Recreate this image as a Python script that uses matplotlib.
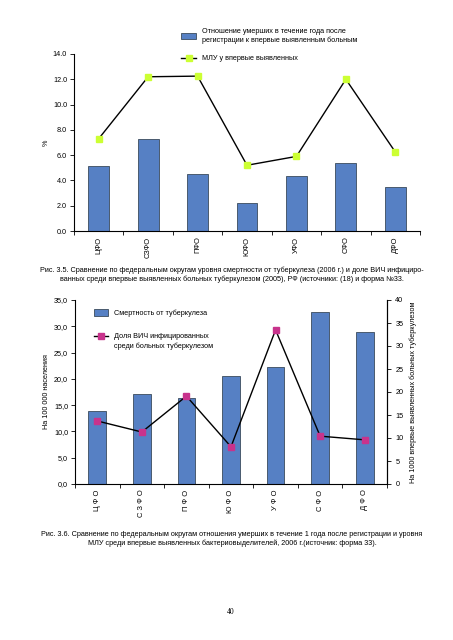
import matplotlib
matplotlib.use("Agg")
import numpy as np
import matplotlib.pyplot as plt
from matplotlib.patches import Rectangle
from matplotlib.lines import Line2D

plt.rcParams['font.family'] = ['Liberation Sans', 'DejaVu Sans']

districts = ['ЦФО', 'СЗФО', 'ПФО', 'ЮФО', 'УФО', 'СФО', 'ДФО']

# fig 3.5 (upper chart)
died_ratio = [5.15, 7.25, 4.5, 2.2, 4.35, 5.4, 3.45]
mdr_new = [7.3, 12.2, 12.25, 5.2, 5.9, 12.0, 6.25]

# fig 3.6 (lower chart)
tb_mortality = [13.9, 17.2, 16.4, 20.5, 22.3, 32.8, 29.0]
hiv_share = [13.7, 11.3, 19.1, 8.1, 33.5, 10.4, 9.6]

W, H = 453, 640
BAR = '#5680c4'
EDGE = '#3a4a5c'
fs = 5.2

fig = plt.figure(figsize=(W / 100, H / 100), dpi=100)


def fx(px):
    return px / W


def fy(py):
    return 1 - py / H


def style_cat_axis(ax, labels, lfs):
    n = len(labels)
    ax.set_xlim(-0.5, n - 0.5)
    ax.set_xticks(np.arange(n + 1) - 0.5)
    ax.set_xticklabels([])
    ax.set_xticks(np.arange(n), minor=True)
    ax.set_xticklabels(labels, minor=True, rotation=90, va='top', fontsize=lfs)
    ax.tick_params(axis='x', which='major', direction='out', length=3, width=0.6)
    ax.tick_params(axis='x', which='minor', length=0, pad=4)
    ax.tick_params(axis='y', direction='out', length=3, width=0.6, labelsize=fs, pad=2)
    for s in ('top', 'right'):
        ax.spines[s].set_visible(False)
    for s in ('left', 'bottom'):
        ax.spines[s].set_linewidth(0.8)


x = np.arange(len(districts))

# ---- upper chart
ax1 = fig.add_axes([fx(74), fy(231), fx(420) - fx(74), fy(54) - fy(231)])
ax1.bar(x, died_ratio, width=0.42, color=BAR, edgecolor=EDGE, linewidth=0.6, zorder=2)
ax1.plot(x, mdr_new, color='black', lw=1.0, marker='s', ms=4.8,
         mfc='#ccff33', mec='#ccff33', zorder=3)
ax1.set_ylim(0, 14)
ax1.set_yticks(np.arange(0, 14.1, 2))
ax1.set_yticklabels([f'{v:.1f}' for v in np.arange(0, 14.1, 2)])
style_cat_axis(ax1, districts, 5.4)
fig.text(fx(46), fy(143), '%', rotation=90, fontsize=fs, ha='center', va='center')

# legend of upper chart
fig.add_artist(Rectangle((fx(181), fy(39)), fx(15), fy(33) - fy(39),
                         transform=fig.transFigure, facecolor=BAR, edgecolor=EDGE, lw=0.6))
fig.text(fx(202), fy(36), 'Отношение умерших в течение года после\nрегистрации к впервые выявленным больным',
         fontsize=fs, va='center', ha='left', linespacing=1.3)
fig.add_artist(Line2D([fx(181), fx(196)], [fy(57.5), fy(57.5)], transform=fig.transFigure,
                      color='black', lw=1.0))
fig.add_artist(Line2D([fx(188.5)], [fy(57.5)], transform=fig.transFigure, marker='s',
                      ms=4.8, mfc='#ccff33', mec='#ccff33'))
fig.text(fx(202), fy(58), 'МЛУ у впервые выявленных', fontsize=fs, va='center', ha='left')

fig.text(fx(232), fy(275),
         'Рис. 3.5. Сравнение по федеральным округам уровня смертности от туберкулеза (2006 г.) и доле ВИЧ инфициро-\n'
         'ванных среди впервые выявленных больных туберкулезом (2005), РФ (источники: (18) и форма №33.',
         fontsize=fs, ha='center', va='center', linespacing=1.3)

# ---- lower chart
ax2 = fig.add_axes([fx(75), fy(484), fx(387) - fx(75), fy(300) - fy(484)])
ax2.bar(x, tb_mortality, width=0.4, color=BAR, edgecolor=EDGE, linewidth=0.6, zorder=2)
ax2.set_ylim(0, 35)
ax2.set_yticks(np.arange(0, 35.1, 5))
ax2.set_yticklabels([f'{v:.1f}'.replace('.', ',') for v in np.arange(0, 35.1, 5)])
style_cat_axis(ax2, [' '.join(d) for d in districts], 5.4)
ax2.spines['right'].set_visible(True)
ax2.spines['right'].set_linewidth(0.8)

ax3 = ax2.twinx()
ax3.plot(x, hiv_share, color='black', lw=1.0, marker='s', ms=4.8,
         mfc='#c8338c', mec='#c8338c', zorder=3)
ax3.set_ylim(0, 40)
ax3.set_yticks(np.arange(0, 41, 5))
ax3.tick_params(axis='y', direction='out', length=3, width=0.6, labelsize=fs, pad=3)
for s in ('top', 'left', 'bottom'):
    ax3.spines[s].set_visible(False)
ax3.spines['right'].set_linewidth(0.8)

fig.text(fx(46), fy(392), 'На 100 000 населения', rotation=90, fontsize=fs, ha='center', va='center')
fig.text(fx(413), fy(392), 'На 1000 впервые выявленных больных туберкулезом', rotation=90,
         fontsize=fs, ha='center', va='center')

# legend of lower chart
fig.add_artist(Rectangle((fx(94), fy(316)), fx(14), fy(309) - fy(316),
                         transform=fig.transFigure, facecolor=BAR, edgecolor=EDGE, lw=0.6))
fig.text(fx(114), fy(313), 'Смертность от туберкулеза', fontsize=fs, va='center', ha='left')
fig.add_artist(Line2D([fx(94), fx(108)], [fy(335.5), fy(335.5)], transform=fig.transFigure,
                      color='black', lw=1.0))
fig.add_artist(Line2D([fx(101)], [fy(335.5)], transform=fig.transFigure, marker='s',
                      ms=4.8, mfc='#c8338c', mec='#c8338c'))
fig.text(fx(114), fy(341.5), 'Доля ВИЧ инфицированных\nсреди больных туберкулезом',
         fontsize=fs, va='center', ha='left', linespacing=1.5)

fig.text(fx(232), fy(539),
         'Рис. 3.6. Сравнение по федеральным округам отношения умерших в течение 1 года после регистрации и уровня\n'
         'МЛУ среди впервые выявленных бактериовыделителей, 2006 г.(источник: форма 33).',
         fontsize=fs, ha='center', va='center', linespacing=1.3)

fig.text(fx(231), fy(612), '40', fontsize=5.5, family=['Liberation Serif', 'DejaVu Serif'],
         ha='center', va='center')

fig.savefig('out.png', dpi=100)
